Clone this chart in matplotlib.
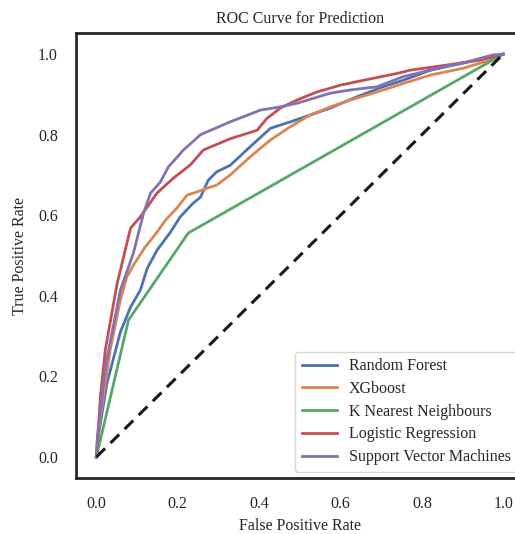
import matplotlib
matplotlib.use("Agg")
import matplotlib.pyplot as plt

# ---- data ----
rf_fpr = [0, .006, .026, .059, .084, .108, .125, .149, .182, .206, .238, .256, .275, .296, .329, .378, .428, .477, .526, .575, .64, .705, .754, .821, .902, 1.0]
rf_tpr = [0, .059, .183, .31, .372, .414, .468, .513, .558, .596, .63, .645, .687, .708, .724, .77, .816, .832, .849, .866, .894, .919, .935, .96, .978, 1.0]

xgb_fpr = [0, .01, .034, .059, .075, .091, .12, .149, .17, .198, .223, .247, .272, .296, .329, .378, .428, .477, .526, .575, .624, .69, .754, .821, .902, .968, 1.0]
xgb_tpr = [0, .1, .266, .39, .447, .476, .521, .558, .588, .618, .65, .658, .667, .675, .7, .745, .787, .82, .849, .869, .886, .906, .927, .948, .965, .985, 1.0]

knn_fpr = [0, .079, .226, 1.0]
knn_tpr = [0, .34, .556, 1.0]

lr_fpr = [0, .01, .022, .051, .084, .108, .149, .189, .231, .263, .329, .395, .419, .452, .493, .542, .6, .656, .739, .771, .862, .943, 1.0]
lr_tpr = [0, .15, .266, .43, .568, .596, .655, .692, .725, .762, .79, .811, .84, .866, .886, .906, .923, .935, .952, .96, .973, .985, 1.0]

svm_fpr = [0, .002, .022, .059, .091, .116, .133, .157, .177, .214, .256, .329, .403, .452, .493, .575, .624, .69, .754, .788, .837, .902, .975, 1.0]
svm_tpr = [0, .042, .223, .414, .506, .605, .655, .682, .72, .762, .8, .832, .861, .869, .878, .903, .911, .919, .944, .952, .965, .978, .998, 1.0]

series = [
    ("Random Forest", rf_fpr, rf_tpr, "#4C72B0"),
    ("XGboost", xgb_fpr, xgb_tpr, "#DD8452"),
    ("K Nearest Neighbours", knn_fpr, knn_tpr, "#55A868"),
    ("Logistic Regression", lr_fpr, lr_tpr, "#C44E52"),
    ("Support Vector Machines", svm_fpr, svm_tpr, "#8172B3"),
]
ticks = [0.0, 0.2, 0.4, 0.6, 0.8, 1.0]

FS = 11.5
plt.rcParams['font.family'] = ['Liberation Serif', 'DejaVu Serif']
plt.rcParams['font.size'] = FS

fig = plt.figure(figsize=(5.15, 5.34), dpi=100)
ax = fig.add_axes([0.1476, 0.1049, 0.869, 0.833])

for name, fx, ty, c in series:
    ax.plot(fx, ty, color=c, lw=2.0, label=name)
ax.plot([0, 1], [0, 1], color="#1a1a1a", lw=2.2, ls=(0, (4, 2.5)))

ax.set_xlim(-0.05, 1.05)
ax.set_ylim(-0.052, 1.052)
ax.set_xticks(ticks)
ax.set_yticks(ticks)
ax.set_xticklabels([f"{t:.1f}" for t in ticks])
ax.set_yticklabels([f"{t:.1f}" for t in ticks])
ax.tick_params(axis='x', length=0, pad=13, labelsize=FS, colors="#262626")
ax.tick_params(axis='y', length=0, pad=13, labelsize=FS, colors="#262626")
for s in ax.spines.values():
    s.set_linewidth(2.0)
    s.set_color("#262626")

ax.set_xlabel("False Positive Rate", color="#262626", labelpad=4)
ax.set_ylabel("True Positive Rate", color="#262626", labelpad=7)
ax.set_title("ROC Curve for Prediction", color="#262626", fontsize=FS, pad=7)

leg = ax.legend(loc="lower right", frameon=True, fontsize=FS, handlelength=2.2,
                borderaxespad=0.4, labelspacing=0.42, handletextpad=0.75)
leg.get_frame().set_edgecolor("#cccccc")
for t in leg.get_texts():
    t.set_color("#262626")

fig.savefig("out.png", dpi=100)
